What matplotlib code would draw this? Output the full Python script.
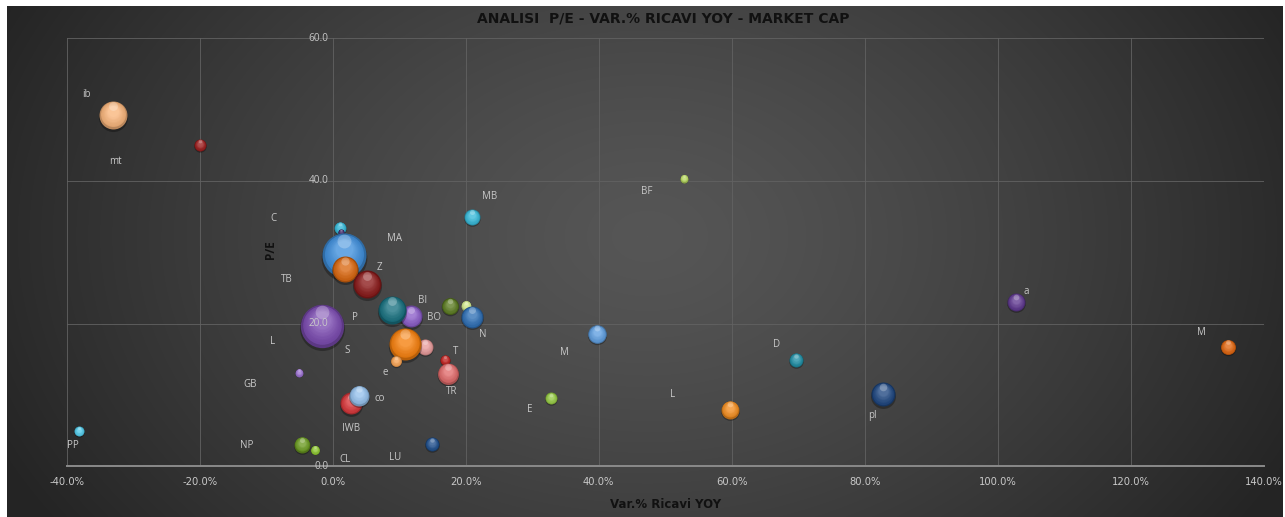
import numpy as np
import matplotlib
matplotlib.use("Agg")
import matplotlib.pyplot as plt
from matplotlib.transforms import ScaledTranslation
from matplotlib.colors import to_rgb

# ---------------- data ----------------
labels = ["ib", "mt", "PP", "C", "", "MA", "TB", "Z", "BO", "BI", "P", "", "",
          "N", "MB", "L", "S", "e", "T", "TR", "GB", "IWB", "co", "NP", "CL",
          "LU", "BF", "M", "E", "L", "D", "pl", "a", "M"]
var_ricavi = [-33.1, -20.0, -38.1, 1.1, 1.3, 1.7, 1.8, 5.1, 11.8, 8.9, -1.6, 17.6, 20.1,
              20.9, 20.9, 13.9, 10.9, 9.5, 16.9, 17.4, -5.1, 2.8, 3.9, -4.6, -2.6,
              15.0, 52.8, 39.8, 32.8, 59.8, 69.7, 82.7, 102.8, 134.6]
pe = [49.2, 45.0, 4.9, 33.4, 32.8, 29.6, 27.6, 25.5, 21.0, 21.9, 19.7, 22.4, 22.5,
      20.9, 34.9, 16.7, 17.1, 14.7, 14.9, 13.0, 13.1, 8.8, 9.9, 3.0, 2.3,
      3.1, 40.3, 18.5, 9.5, 7.9, 14.9, 10.1, 23.0, 16.7]
market_cap = [196, 36, 25, 36, 9, 484, 169, 196, 121, 196, 470, 72, 25,
              121, 64, 64, 256, 30, 25, 110, 16, 121, 100, 64, 20,
              49, 16, 86, 36, 81, 49, 144, 81, 56]
x_ticks = [-40, -20, 0, 20, 40, 60, 80, 100, 120, 140]
y_ticks = [0, 20, 40, 60]

# ---------------- styles ----------------
colors = ["#F8B47A", "#9B1C1C", "#4DC8E8", "#31B6D6", "#3B2466", "#3E8EDB", "#D9660F",
          "#8A1A1A", "#8A5CC8", "#17707F", "#7A4AB0", "#5A7A20", "#D0E88A",
          "#2E6FB5", "#35B8D8", "#E89A9A", "#F57F0C", "#F5A050", "#C0201E", "#E06A6A",
          "#9A70D0", "#D8363A", "#94C0EC", "#6A9A20", "#8DC630", "#1E4E8C",
          "#B8DA60", "#5E9EE0", "#92C840", "#F28C1E", "#1F8EA5", "#1E4680",
          "#5F3890", "#E0650F"]
# label offsets from bubble centre, in pixels (dx right, dy down)
label_off = [(-26, -21), (-84, 16), (-6, 14), (-67, -9), (0, 0), (50, -17), (-58, 10),
             (13, -17), (23, 1), (31, -9), (33, -8), (0, 0), (0, 0),
             (11, 17), (18, -21), (-153, -6), (-58, 6), (-11, 11), (11, -8), (3, 18),
             (-49, 12), (0, 25), (21, 3), (-55, 1), (30, 10),
             (-37, 13), (-37, 13), (-33, 18), (-21, 11), (-58, -15), (-20, -15),
             (-10, 21), (10, -11), (-26, -15)]

W, H, DPI = 1285, 517, 100
fig = plt.figure(figsize=(W / DPI, H / DPI), dpi=DPI)
fig.patch.set_facecolor("white")

# background radial gradient panel
bg = fig.add_axes([7 / W, 0, (1283 - 7) / W, (517 - 6) / H])
bg.set_axis_off()
yy, xx = np.mgrid[0:511, 0:1276]
d = np.sqrt(((xx - 640) / 720.0) ** 2 + ((yy - 230) / 520.0) ** 2)
d = np.clip(d, 0, 1)
c_center, c_edge = 0x56 / 255, 0x24 / 255
val = c_center - (c_center - c_edge) * d ** 1.3
img = np.dstack([val, val, val])
bg.imshow(img, aspect="auto", extent=[0, 1, 0, 1], interpolation="bilinear")
bg.set_xlim(0, 1)
bg.set_ylim(0, 1)

narrow = ["Liberation Sans Narrow", "DejaVu Sans"]
reg = ["Open Sans", "DejaVu Sans"]

ax = fig.add_axes([66.7 / W, (H - 466.3) / H, (1263.7 - 66.7) / W, (466.3 - 38) / H])
ax.set_facecolor("none")
for s in ["top", "right", "left"]:
    ax.spines[s].set_visible(False)
ax.spines["bottom"].set_color("#8A8A8A")
ax.spines["bottom"].set_linewidth(1.4)
ax.set_xlim(-40, 140)
ax.set_ylim(0, 60)
ax.set_xticks(x_ticks)
ax.set_yticks(y_ticks)
ax.set_xticklabels([f"{v:.1f}%" for v in x_ticks], family=narrow, fontsize=7.2, color="#C8C8C8")
ax.set_yticklabels([])
ax.tick_params(axis="both", length=0)
ax.tick_params(axis="x", pad=8)
ax.grid(True, color="#626262", linewidth=0.6)
ax.set_axisbelow(True)

# y tick labels drawn next to the y axis at x = 0 (on top of bubbles)
for v in y_ticks:
    ax.annotate(f"{v:.1f}", (0, v), xytext=(-3, 0), textcoords="offset points",
                ha="right", va="center", fontsize=7.2, color="#C8C8C8",
                family=reg, zorder=70, annotation_clip=False)

# bubbles with pseudo-3D shading
k = 2.0736  # points^2 per unit of market cap
px2in = 1.0 / DPI
for i in range(len(labels)):
    x, y, cap, col = var_ricavi[i], pe[i], market_cap[i], colors[i]
    r_px = np.sqrt(cap)
    base = np.array(to_rgb(col))
    z = 10 + i * 0.01
    tr = ax.transData + ScaledTranslation(0, -r_px * 0.12 * px2in, fig.dpi_scale_trans)
    ax.scatter([x], [y], s=[k * cap * 1.08], color="black", alpha=0.3, lw=0,
               transform=tr, zorder=z)
    n = 12
    for j in range(n):
        t = j / (n - 1)
        f = 1 - 0.6 * t
        if t < 0.15:
            c = base * 0.75
        else:
            c = base * (0.88 + 0.12 * t) + (1 - base) * 0.22 * t ** 1.5
        c = np.clip(c, 0, 1)
        dy = r_px * 0.28 * t
        tr = ax.transData + ScaledTranslation(0, dy * px2in, fig.dpi_scale_trans)
        ax.scatter([x], [y], s=[k * cap * f * f], color=c, lw=0,
                   transform=tr, zorder=z + 0.0001 * j)
    tr = ax.transData + ScaledTranslation(0, r_px * 0.62 * px2in, fig.dpi_scale_trans)
    ax.scatter([x], [y], s=[k * cap * 0.10], color="white", alpha=0.25, lw=0,
               transform=tr, zorder=z + 0.002)
    if labels[i]:
        dx, dyl = label_off[i]
        ax.annotate(labels[i], (x, y), xytext=(dx * 0.72, -dyl * 0.72),
                    textcoords="offset points", ha="center", va="center",
                    fontsize=7, color="#C8C8C8", family=reg, zorder=60)

ax.set_xlabel("Var.% Ricavi YOY", family=narrow, fontsize=8.5, fontweight="bold",
              color="#111111")
ax.xaxis.set_label_coords(0.5, -(505 - 466.3) / (466.3 - 38))
ax.xaxis.label.set_va("center")
ax.set_ylabel("P/E", family=reg, fontsize=8.5, fontweight="bold", color="#111111")
ax.yaxis.set_label_coords((277 - 66.7) / (1263.7 - 66.7), (466.3 - 250) / (466.3 - 38))

fig.text(663 / W, 1 - 19 / H, "ANALISI  P/E - VAR.% RICAVI YOY - MARKET CAP",
         family=narrow, fontsize=10, fontweight="bold", color="#111111",
         ha="center", va="center")

fig.savefig("out.png", dpi=DPI, facecolor="white")
